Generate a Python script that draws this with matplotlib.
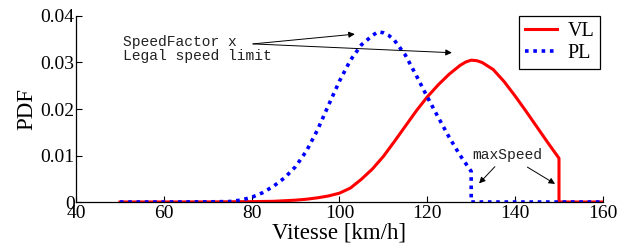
import matplotlib
matplotlib.use("Agg")
import matplotlib.pyplot as plt

# vitesses [km/h] et densités
vl_x = [50, 70, 80, 85, 90, 92.5, 95, 97.5, 100, 102.5, 105, 107.5, 110, 112.5,
        115, 117.5, 120, 122.5, 125, 127.5, 128.75, 130, 131.25, 132.5, 135,
        137.5, 140, 142.5, 145, 147.5, 150, 150, 160]
vl_y = [0, 0.00002, 0.00008, 0.00015, 0.0004, 0.0006, 0.0009, 0.0013, 0.0019,
        0.0030, 0.0049, 0.0071, 0.0098, 0.0130, 0.0163, 0.0196, 0.0226, 0.0252,
        0.0275, 0.0294, 0.0301, 0.0305, 0.0304, 0.0300, 0.0285, 0.0259, 0.0228,
        0.0195, 0.0161, 0.0127, 0.0094, 0, 0]

pl_x = [50, 60, 70, 75, 77.5, 80, 82.5, 85, 87.5, 90, 92.5, 95, 97.5, 100,
        102.5, 105, 107.5, 108.75, 110, 111.25, 112.5, 115, 117.5, 120, 122.5,
        125, 127.5, 130, 130, 160]
pl_y = [0, 0, 0.00003, 0.0001, 0.0004, 0.0010, 0.0020, 0.0034, 0.0052, 0.0076,
        0.0110, 0.0155, 0.0208, 0.0260, 0.0305, 0.0338, 0.0358, 0.0366, 0.0364,
        0.0358, 0.0348, 0.0316, 0.0272, 0.0226, 0.0182, 0.0139, 0.0100, 0.0066,
        0, 0]

xticks = [40, 60, 80, 100, 120, 140, 160]
yticks = [0, 0.01, 0.02, 0.03, 0.04]
ytick_labels = ["0", "0.01", "0.02", "0.03", "0.04"]

SERIF = "Liberation Serif"
MONO = "Liberation Mono"

fig = plt.figure(figsize=(6.19, 2.45), dpi=100)
ax = fig.add_axes([0.1228, 0.1755, 0.8512, 0.7592])

ax.plot(vl_x, vl_y, color="red", lw=2.2, label="VL")
ax.plot(pl_x, pl_y, color="blue", lw=2.6, ls=(0, (1, 1.3)), label="PL")

ax.set_xlim(40, 160)
ax.set_ylim(0, 0.04)
ax.set_xticks(xticks)
ax.set_xticklabels([str(t) for t in xticks], family=SERIF, fontsize=14)
ax.set_yticks(yticks)
ax.set_yticklabels(ytick_labels, family=SERIF, fontsize=14)
ax.tick_params(direction="in", length=4, width=0.8, pad=1)
ax.tick_params(axis="x", pad=2.5)
for s in ("top", "right"):
    ax.spines[s].set_visible(False)
for s in ("left", "bottom"):
    ax.spines[s].set_linewidth(0.9)

ax.set_xlabel("Vitesse [km/h]", family=SERIF, fontsize=16.5, labelpad=0)
ax.set_ylabel("PDF", family=SERIF, fontsize=16.5, labelpad=2)

leg = ax.legend(loc="upper right", bbox_to_anchor=(0.995, 1.0), borderaxespad=0,
                prop={"family": SERIF, "size": 14.5}, fancybox=False,
                edgecolor="black", framealpha=1, handlelength=1.6,
                handletextpad=0.5, borderpad=0.3, labelspacing=0.15)
leg.get_frame().set_linewidth(0.9)

arrow = dict(arrowstyle="-|>", color="black", lw=0.7, mutation_scale=9,
             shrinkA=0, shrinkB=0)
ax.text(50.7, 0.0329, "SpeedFactor x\nLegal speed limit", family=MONO,
        fontsize=10.5, color="#222222", va="center", linespacing=0.95)
ax.annotate("", xy=(103.5, 0.0361), xytext=(80.3, 0.0340), arrowprops=arrow)
ax.annotate("", xy=(125.6, 0.0321), xytext=(80.3, 0.0340), arrowprops=arrow)

ax.text(138.3, 0.0101, "maxSpeed", family=MONO, fontsize=10.5,
        color="#222222", ha="center", va="center")
ax.annotate("", xy=(131.8, 0.0040), xytext=(135.4, 0.0076), arrowprops=arrow)
ax.annotate("", xy=(149.1, 0.0039), xytext=(142.8, 0.0075), arrowprops=arrow)

fig.savefig("out.png", dpi=100, facecolor="white")
